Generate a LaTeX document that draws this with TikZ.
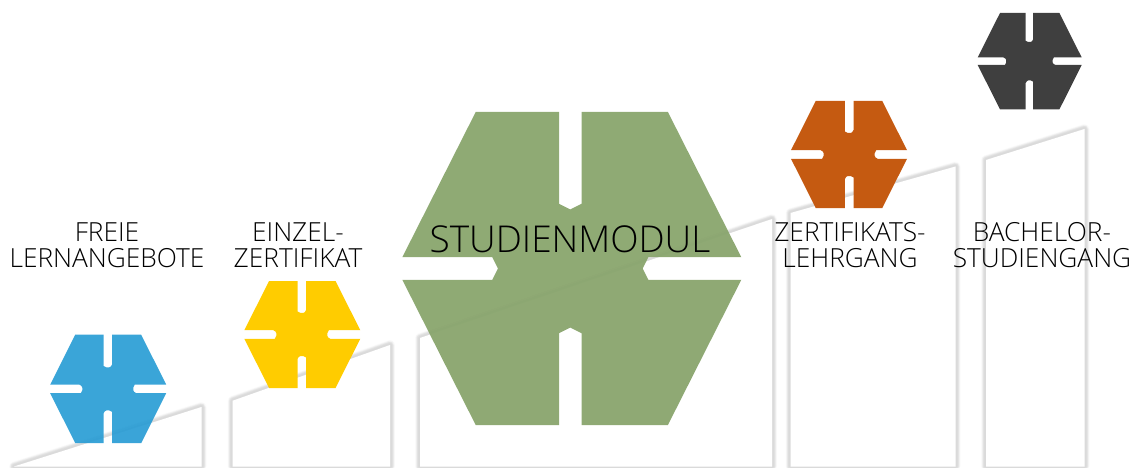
\documentclass[tikz,border=0pt]{standalone}
\usepackage{fontspec}
\setmainfont{Open Sans Light}
\definecolor{cblue}{HTML}{259BD4}
\definecolor{cyellow}{HTML}{FFCC00}
\definecolor{cgreen}{HTML}{89A56D}
\definecolor{corange}{HTML}{C55A11}
\definecolor{cdark}{HTML}{3F3F3F}
\tikzset{
  lbl/.style={anchor=south,inner sep=0pt,align=center,text=black,font=\fontsize{26.3}{26}\selectfont},
}
% #1 outer cx, #2 slot cx, #3 cy, #4 half width at slot, #5 half height, #6 half width of top
% #7 slot half width, #8 vertical shoulder dist, #9 horizontal shoulder dist
\newcommand{\hexpart}[9]{%
  \pgfmathsetmacro{\tp}{0.5*#7}%
  \fill (#1-#6,#3-#5) -- (#2-#7,#3-#5)
    -- (#2-#7,#3-#8) [rounded corners=\rc] -- (#2,#3-#8+\tp) -- (#2+#7,#3-#8) [sharp corners]
    -- (#2+#7,#3-#5) -- (#1+#6,#3-#5) -- (#1+#4,#3-#7)
    -- (#2+#9,#3-#7) [rounded corners=\rc] -- (#2+#9-\tp,#3) -- (#2+#9,#3+#7) [sharp corners]
    -- (#1+#4,#3+#7) -- (#1+#6,#3+#5) -- (#2+#7,#3+#5)
    -- (#2+#7,#3+#8) [rounded corners=\rc] -- (#2,#3+#8-\tp) -- (#2-#7,#3+#8) [sharp corners]
    -- (#2-#7,#3+#5) -- (#1-#6,#3+#5) -- (#1-#4,#3+#7)
    -- (#2-#9,#3+#7) [rounded corners=\rc] -- (#2-#9+\tp,#3) -- (#2-#9,#3-#7) [sharp corners]
    -- (#1-#4,#3-#7) -- cycle;
}
\newcommand{\stair}[1]{%
  \foreach \w/\o in {10/0.012,9/0.018,8/0.022,7/0.026,6/0.028,5/0.028,3.5/0.02}{
    \draw[black,draw opacity=\o,line width=\w pt,line join=round] #1;
  }
  \fill[white] #1;
}
\begin{document}
\begin{tikzpicture}[x=1pt,y=-1pt]
\useasboundingbox (0,0) rectangle (1138,468);
\begin{scope}
\clip (0,0) rectangle (1138,468);
\stair{(14,466.5) -- (201.5,407) -- (201.5,466.5) -- cycle}
\stair{(232.7,400.7) -- (390,345) -- (390,466.5) -- (232.7,466.5) -- cycle}
\stair{(420,338) -- (772,219) -- (772,466.5) -- (420,466.5) -- cycle}
\stair{(790.5,213) -- (955.5,166.5) -- (955.5,466.5) -- (790.5,466.5) -- cycle}
\stair{(986,160) -- (1084.5,129) -- (1084.5,466.5) -- (986,466.5) -- cycle}
\end{scope}
\def\rc{1.5pt}
\begin{scope}[fill=cblue,fill opacity=0.9]
\hexpart{108.2}{107.8}{388.9}{58}{54.2}{33}{4.3}{23}{27}
\end{scope}
\begin{scope}[fill=cyellow]
\hexpart{302.3}{301.8}{334.5}{58}{53.5}{33.2}{4.3}{23}{27}
\end{scope}
\begin{scope}[fill=corange]
\hexpart{849}{849.2}{154.5}{58}{53.5}{33.3}{4.3}{23}{27}
\end{scope}
\begin{scope}[fill=cdark]
\hexpart{1029.7}{1029.4}{61.2}{52}{48.2}{29.7}{3.8}{20.5}{24.5}
\end{scope}
\def\rc{0pt}
\begin{scope}[fill=cgreen,fill opacity=0.95]
\hexpart{571.8}{570.3}{268.5}{169.5}{156.7}{96}{11.3}{64.7}{78}
\end{scope}
\node[lbl] (freie) at (107,268) {FREIE\\LERNANGEBOTE};
\node[lbl] (einzel) at (298,268) {EINZEL-\\ZERTIFIKAT};
\node[anchor=base,inner sep=0pt,text=black,font=\fontsize{37}{40}\selectfont] (modul) at (570,252.7) {STUDIENMODUL};
\node[lbl] (zert) at (850,268) {ZERTIFIKATS-\\LEHRGANG};
\node[lbl] (bach) at (1042,268) {BACHELOR-\\STUDIENGANG};
\end{tikzpicture}
\end{document}
